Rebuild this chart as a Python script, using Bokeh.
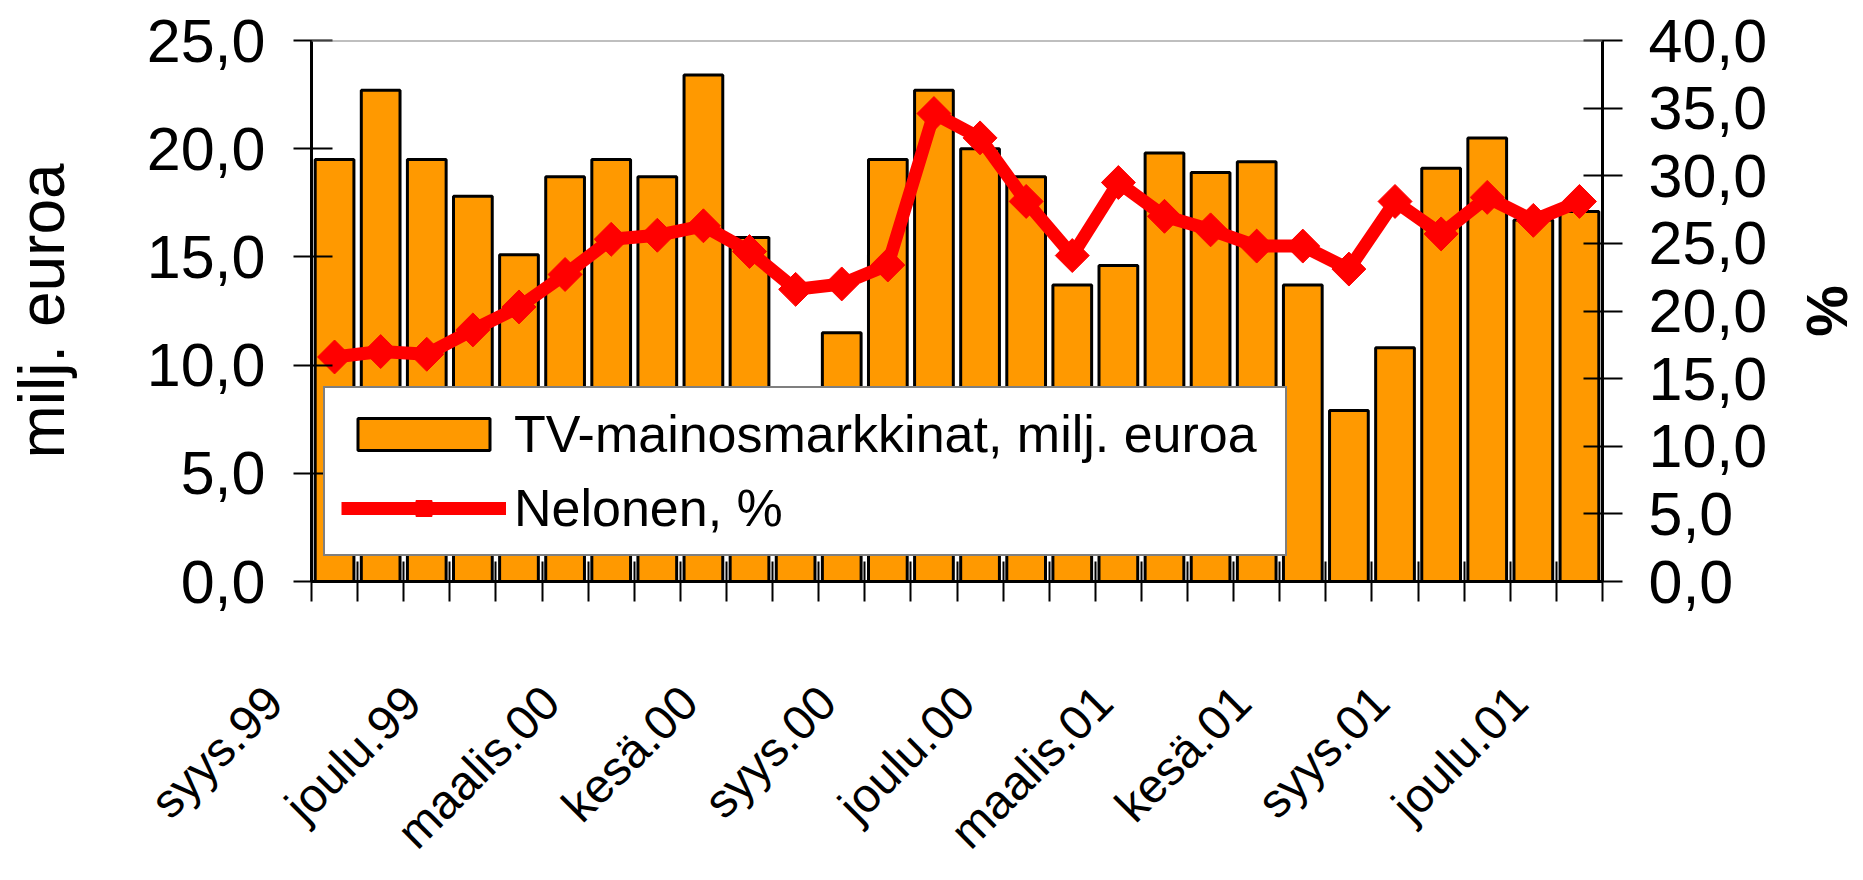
import numpy as np
from bokeh.plotting import figure
from bokeh.models import (Range1d, LinearAxis, FixedTicker, Legend, LegendItem, Span)
from bokeh.embed import file_html
from bokeh.resources import INLINE

# ---------------- data ----------------
months = ["syys.99", "loka.99", "marras.99", "joulu.99", "tammi.00", "helmi.00",
          "maalis.00", "huhti.00", "touko.00", "kesä.00", "heinä.00", "elo.00",
          "syys.00", "loka.00", "marras.00", "joulu.00", "tammi.01", "helmi.01",
          "maalis.01", "huhti.01", "touko.01", "kesä.01", "heinä.01", "elo.01",
          "syys.01", "loka.01", "marras.01", "joulu.01"]
tv_market = [19.5, 22.7, 19.5, 17.8, 15.1, 18.7, 19.5, 18.7, 23.4, 15.9, 8.5, 11.5,
             19.5, 22.7, 20.0, 18.7, 13.7, 14.6, 19.8, 18.9, 19.4, 13.7, 7.9, 10.8,
             19.1, 20.5, 16.7, 17.1]
nelonen_pct = [16.6, 17.0, 16.8, 18.6, 20.3, 22.7, 25.3, 25.6, 26.3, 24.4, 21.6, 22.0,
               23.4, 34.6, 32.8, 28.1, 24.1, 29.5, 27.0, 26.0, 24.8, 24.8, 23.1, 28.1,
               25.7, 28.4, 26.7, 28.1]
shown_months = ["syys.99", "joulu.99", "maalis.00", "kesä.00", "syys.00", "joulu.00",
                "maalis.01", "kesä.01", "syys.01", "joulu.01"]
left_ticks = [0, 5, 10, 15, 20, 25]
left_tick_labels = ["0,0", "5,0", "10,0", "15,0", "20,0", "25,0"]
right_ticks = [0, 5, 10, 15, 20, 25, 30, 35, 40]
right_tick_labels = ["0,0", "5,0", "10,0", "15,0", "20,0", "25,0", "30,0", "35,0", "40,0"]
bar_name = "TV-mainosmarkkinat, milj. euroa"
line_name = "Nelonen, %"
left_title = "milj. euroa"
right_title = "%"
LEFT_MAX = 25
RIGHT_MAX = 40

# ---------------- layout constants ----------------
FONT = "Liberation Sans"
W, H = 1863, 880
LABEL_SHIFT = 0.49        # label axis offset (keeps the first label inside the range)
LABEL_PAD = "\u00a0" * 4  # moves the slanted labels further down-left, as in Excel

n = len(months)
xc = np.arange(n) + 0.5

p = figure(width=W, height=H, output_backend="svg", toolbar_location=None,
           x_range=Range1d(0, n), y_range=Range1d(0, LEFT_MAX),
           min_border_left=311, min_border_right=261, min_border_top=40,
           min_border_bottom=H - 581)
p.extra_y_ranges = {"pct": Range1d(0, RIGHT_MAX)}
p.extra_x_ranges = {"lab": Range1d(LABEL_SHIFT - 0.5, n + LABEL_SHIFT - 0.5)}
p.xgrid.visible = False
p.ygrid.visible = False
p.outline_line_color = None
p.background_fill_color = "white"
p.border_fill_color = "white"

# top border line of the plot area
p.add_layout(Span(location=LEFT_MAX, dimension="width", line_color="#808080", line_width=2))

bars = p.vbar(x=xc, top=tv_market, width=0.84, fill_color="#FF9900",
              line_color="black", line_width=3)
ln = p.line(x=xc, y=nelonen_pct, y_range_name="pct", line_color="#FF0000", line_width=13)
mk = p.scatter(x=xc, y=nelonen_pct, y_range_name="pct", marker="square", angle=np.pi / 4,
               size=24, fill_color="#FF0000", line_color="#FF0000")

# category axis: ticks at the category boundaries, crossing the axis line
xa = p.xaxis[0]
xa.ticker = FixedTicker(ticks=list(range(n + 1)))
xa.major_label_overrides = {i: "" for i in range(n + 1)}
xa.major_label_text_font_size = "1px"
xa.major_label_standoff = 0
xa.major_tick_in = 20
xa.major_tick_out = 20
xa.major_tick_line_width = 2
xa.major_tick_line_color = "black"
xa.axis_line_width = 3
xa.axis_line_color = "black"
xa.minor_tick_line_color = None

# month labels (second, label-only axis)
label_ticks = [months.index(m) for m in shown_months]
la = LinearAxis(x_range_name="lab", ticker=FixedTicker(ticks=label_ticks))
la.major_label_overrides = {i: months[i] + LABEL_PAD for i in label_ticks}
la.major_label_orientation = np.pi / 4
la.major_label_text_font = FONT
la.major_label_text_font_size = "48px"
la.major_label_text_color = "black"
la.major_label_standoff = 55
la.major_tick_in = 0
la.major_tick_out = 0
la.major_tick_line_color = None
la.minor_tick_line_color = None
la.axis_line_color = None
p.add_layout(la, "below")

# left y axis
ya = p.yaxis[0]
ya.ticker = FixedTicker(ticks=left_ticks)
ya.major_label_overrides = dict(zip(left_ticks, left_tick_labels))
ya.major_label_text_font = FONT
ya.major_label_text_font_size = "61px"
ya.major_label_text_color = "black"
ya.major_label_standoff = 28
ya.major_tick_in = 21
ya.major_tick_out = 18
ya.major_tick_line_width = 2
ya.major_tick_line_color = "black"
ya.axis_line_width = 3
ya.axis_line_color = "black"
ya.minor_tick_line_color = None
ya.axis_label = left_title
ya.axis_label_text_font = FONT
ya.axis_label_text_font_size = "64px"
ya.axis_label_text_font_style = "normal"
ya.axis_label_text_color = "black"
ya.axis_label_standoff = 66

# right y axis
ra = LinearAxis(y_range_name="pct", ticker=FixedTicker(ticks=right_ticks))
ra.major_label_overrides = dict(zip(right_ticks, right_tick_labels))
ra.major_label_text_font = FONT
ra.major_label_text_font_size = "61px"
ra.major_label_text_color = "black"
ra.major_label_standoff = 26
ra.major_tick_in = 19
ra.major_tick_out = 20
ra.major_tick_line_width = 2
ra.major_tick_line_color = "black"
ra.axis_line_width = 3
ra.axis_line_color = "black"
ra.minor_tick_line_color = None
ra.axis_label = right_title
ra.axis_label_text_font = FONT
ra.axis_label_text_font_size = "58px"
ra.axis_label_text_font_style = "bold"
ra.axis_label_text_color = "black"
ra.axis_label_standoff = 25
p.add_layout(ra, "right")

legend = Legend(items=[LegendItem(label=bar_name, renderers=[bars]),
                       LegendItem(label=line_name, renderers=[ln, mk])],
                location=(12, 25), label_text_font=FONT, label_text_font_size="52px",
                label_text_color="black",
                glyph_width=165, glyph_height=40, label_standoff=8, label_height=60,
                label_width=755, spacing=14, padding=16, margin=0,
                border_line_color="black", border_line_width=2,
                background_fill_color="white", background_fill_alpha=1.0)
p.add_layout(legend)

open("out.html", "w").write(file_html(p, INLINE))
